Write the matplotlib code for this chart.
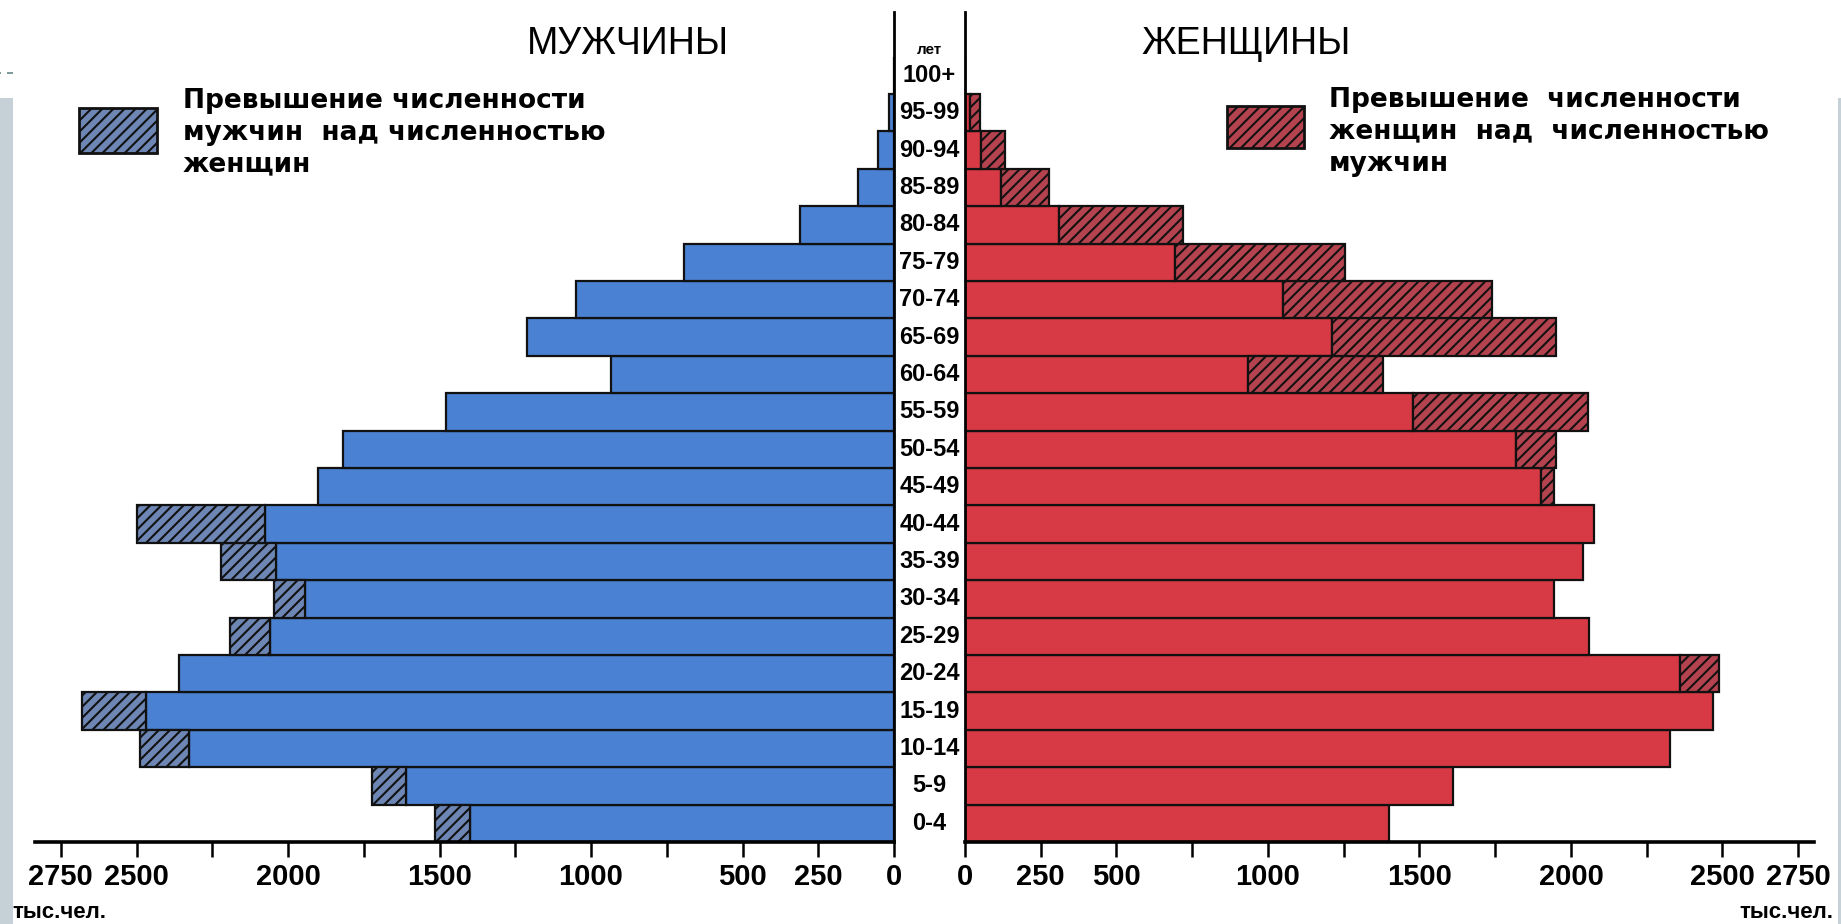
import matplotlib
matplotlib.use("Agg")
import matplotlib.pyplot as plt
from matplotlib.patches import Rectangle
import numpy as np

# age groups, bottom to top
ages = ["0-4", "5-9", "10-14", "15-19", "20-24", "25-29", "30-34", "35-39",
        "40-44", "45-49", "50-54", "55-59", "60-64", "65-69", "70-74",
        "75-79", "80-84", "85-89", "90-94", "95-99", "100+"]

# thousands of people
men = [1515, 1723, 2490, 2680, 2360, 2192, 2047, 2221, 2500, 1900, 1820,
       1477, 934, 1210, 1049, 694, 309, 120, 53, 18, 0]
women = [1400, 1610, 2328, 2470, 2490, 2060, 1945, 2040, 2075, 1945, 1950,
         2056, 1380, 1950, 1739, 1254, 720, 276, 133, 48, 0]

tick_vals = list(range(0, 2751, 250))
tick_shown = [0, 250, 500, 1000, 1500, 2000, 2500, 2750]

BLUE = "#4a81d2"
BLUE_H = "#6d86b4"
RED = "#d83a45"
RED_H = "#b4434f"
EDGE = "#111111"

plt.rcParams["font.family"] = ["Liberation Sans", "DejaVu Sans"]
plt.rcParams["hatch.linewidth"] = 1.5

W, H = 1841, 924
fig = plt.figure(figsize=(W / 100, H / 100), dpi=100)
fig.patch.set_facecolor("white")


def fx(px):
    return px / W


def fy(py):
    return 1 - py / H


# geometry (pixels)
base_y, top_y = 842, 12
row_px = 37.4
y_top_val = -0.5 + (base_y - top_y) / row_px
ax_b = fy(base_y)
ax_h = (base_y - top_y) / H

ax_m = fig.add_axes([fx(35), ax_b, fx(894 - 35), ax_h])
ax_f = fig.add_axes([fx(965), ax_b, fx(1814 - 965), ax_h])
ax_c = fig.add_axes([fx(894), ax_b, fx(965 - 894), ax_h])

y = np.arange(len(ages))
m = np.array(men)
w = np.array(women)
common = np.minimum(m, w)

# men
ax_m.barh(y, common, height=1.0, color=BLUE, edgecolor=EDGE, linewidth=1.6)
ex = m > w
ax_m.barh(y[ex], (m - w)[ex], left=common[ex], height=1.0, facecolor=BLUE_H,
          edgecolor=EDGE, linewidth=1.6, hatch="///")
ax_m.set_xlim(2835, 0)

# women
ax_f.barh(y, common, height=1.0, color=RED, edgecolor=EDGE, linewidth=1.6)
ex = w > m
ax_f.barh(y[ex], (w - m)[ex], left=common[ex], height=1.0, facecolor=RED_H,
          edgecolor=EDGE, linewidth=1.6, hatch="///")
ax_f.set_xlim(0, 2802)

for ax, inner in ((ax_m, "right"), (ax_f, "left")):
    ax.set_ylim(-0.5, y_top_val)
    ax.set_facecolor("none")
    for s in ("top", "left", "right"):
        ax.spines[s].set_visible(s == inner)
    ax.spines[inner].set_linewidth(2)
    ax.spines["bottom"].set_linewidth(2.6)
    ax.set_yticks([])
    ax.set_xticks(tick_vals)
    ax.set_xticklabels([str(v) if v in tick_shown else "" for v in tick_vals],
                       fontweight="bold")
    ax.tick_params(axis="x", direction="out", length=11, width=1.8,
                   labelsize=21, pad=4)

# centre column with age labels
ax_c.set_xlim(0, 1)
ax_c.set_ylim(-0.5, y_top_val)
ax_c.axis("off")
for i, a in enumerate(ages):
    ax_c.text(0.5, i, a, ha="center", va="center", fontsize=17,
              fontweight="bold")
ax_c.text(0.5, -0.5 + (base_y - 50) / row_px, "лет", ha="center",
          va="center", fontsize=11, fontweight="bold")

# titles
fig.text(fx(628), fy(44), "МУЖЧИНЫ", ha="center", va="center", fontsize=27,
         fontweight="medium")
fig.text(fx(1246), fy(44), "ЖЕНЩИНЫ", ha="center", va="center", fontsize=27,
         fontweight="medium")

# legend boxes
fig.patches.append(Rectangle((fx(79), fy(153)), fx(78), (153 - 108) / H,
                             transform=fig.transFigure, facecolor=BLUE_H,
                             edgecolor=EDGE, linewidth=2, hatch="///"))
fig.patches.append(Rectangle((fx(1227), fy(148)), fx(77), (148 - 106) / H,
                             transform=fig.transFigure, facecolor=RED_H,
                             edgecolor=EDGE, linewidth=2, hatch="///"))

leg_m = ["Превышение численности", "мужчин  над численностью", "женщин"]
leg_f = ["Превышение  численности", "женщин  над  численностью", "мужчин"]
for i, t in enumerate(leg_m):
    fig.text(fx(183), fy(101 + 31.8 * i), t, ha="left", va="center",
             fontsize=19, fontweight="bold", family=["DejaVu Sans"])
for i, t in enumerate(leg_f):
    fig.text(fx(1329), fy(100 + 31.8 * i), t, ha="left", va="center",
             fontsize=19, fontweight="bold", family=["DejaVu Sans"])

# units
fig.text(fx(12), fy(913), "тыс.чел.", ha="left", va="center", fontsize=16,
         fontweight="bold")
fig.text(fx(1833), fy(913), "тыс.чел.", ha="right", va="center", fontsize=16,
         fontweight="bold")

# slide frame leftovers
fig.patches.append(Rectangle((0, 0), fx(13), fy(98), transform=fig.transFigure,
                             facecolor="#c6d0d7", edgecolor="none"))
fig.patches.append(Rectangle((fx(1838), 0), fx(3), fy(98),
                             transform=fig.transFigure,
                             facecolor="#c6d0d7", edgecolor="none"))
for x0, x1 in ((0, 1), (7, 13)):
    fig.patches.append(Rectangle((fx(x0), fy(74)), fx(x1 - x0), 2 / H,
                                 transform=fig.transFigure,
                                 facecolor="#7f9c9c", edgecolor="none"))

fig.savefig("out.png", dpi=100)
